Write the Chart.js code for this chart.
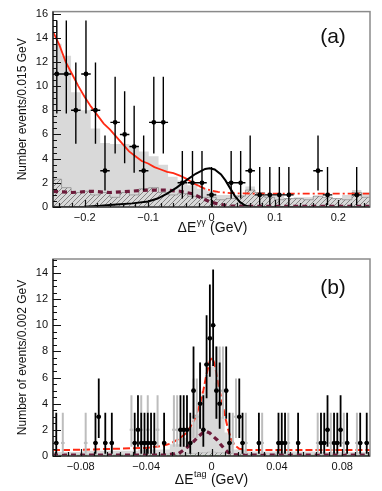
<!DOCTYPE html>
<html><head><meta charset="utf-8">
<script src="https://cdn.jsdelivr.net/npm/chart.js@4.4.1/dist/chart.umd.min.js"></script>
<style>
html,body{margin:0;padding:0;background:#fff;}
#wrap{position:relative;width:382px;height:491px;overflow:hidden;}
.pane{position:absolute;left:0;width:382px;}
#pa{top:0;height:245px;}
#pb{top:245px;height:246px;}
canvas{display:block;}
</style></head><body>
<div id="wrap">
<div class="pane" id="pa"><canvas id="ca" width="382" height="245"></canvas></div>
<div class="pane" id="pb"><canvas id="cb" width="382" height="246"></canvas></div>
</div>
<script>
// ---------- Panel (a): ΔE^γγ ----------
const aBinCenters = [-0.244,-0.229,-0.214,-0.198,-0.183,-0.168,-0.152,-0.137,-0.122,-0.107,-0.091,-0.076,-0.061,-0.046,-0.030,-0.015,0.000,0.015,0.031,0.046,0.061,0.076,0.092,0.107,0.122,0.137,0.153,0.168,0.183,0.198,0.214,0.229,0.244];
const aCounts = [11,11,8,11,8,3,7,6,5,3,7,7,null,2,2,2,1,null,2,2,3,1,1,1,1,null,null,3,1,null,null,1,null];
const aMcTotal = [13.5,12.5,9.5,8.0,6.5,5.3,5.2,5.2,5.0,4.6,4.2,3.5,2.5,2.2,1.8,1.5,1.3,1.0,1.0,1.0,1.7,1.2,0.9,0.9,0.7,0.8,0.8,0.9,0.8,0.7,1.0,1.4,1.2];
const aMcHatched = [2.3,1.6,1.2,1.3,1.0,1.2,0.8,1.2,1.0,1.5,1.6,1.2,1.0,1.1,0.9,0.8,0.8,0.6,0.7,0.9,1.4,1.2,0.8,0.6,0.7,0.7,0.6,0.9,0.8,0.7,0.6,1.2,0.8];
const aFitX = [-0.25,-0.24,-0.23,-0.22,-0.21,-0.2,-0.19,-0.18,-0.17,-0.16,-0.15,-0.14,-0.13,-0.12,-0.11,-0.1,-0.09,-0.08,-0.07,-0.06,-0.05,-0.04,-0.03,-0.02,-0.01,0,0.01,0.02,0.03,0.05,0.1,0.15,0.2,0.25];
const aFitY = [14.5,13.4,12.0,11.0,10.0,9.1,8.3,7.6,6.9,6.4,5.8,5.2,4.6,4.2,3.8,3.6,3.3,3.1,2.9,2.8,2.6,2.35,2.0,1.75,1.5,1.35,1.25,1.2,1.15,1.12,1.1,1.1,1.1,1.1];
const aSigX = [-0.25,-0.2,-0.175,-0.15,-0.125,-0.1,-0.085,-0.07,-0.055,-0.04,-0.025,-0.01,-0.003,0.005,0.015,0.022,0.03,0.037,0.045,0.052,0.06,0.25];
const aSigY = [0,0.03,0.1,0.2,0.3,0.45,0.7,1.1,1.6,2.2,2.75,3.15,3.2,3.1,2.7,2.2,1.5,0.9,0.4,0.15,0.03,0];
const aPeakX = [-0.25,-0.22,-0.19,-0.16,-0.13,-0.1,-0.07,-0.05,-0.03,-0.02,-0.01,0.0,0.01,0.02,0.03,0.05,0.25];
const aPeakY = [1.3,1.2,1.3,1.2,1.3,1.4,1.4,1.3,1.1,0.85,0.6,0.4,0.25,0.15,0.08,0.05,0.05];
const aXTicks = [-0.2,-0.1,0,0.1,0.2];
const aXTickLabels = ['\u22120.2','\u22120.1','0','0.1','0.2'];
const aYTicks = [0,2,4,6,8,10,12,14,16];

// ---------- Panel (b): ΔE^tag ----------
const bBlackX = [-0.095,-0.071,-0.069,-0.065,-0.061,-0.047,-0.045,-0.043,-0.041,-0.039,-0.037,-0.035,-0.029,-0.019,-0.017,-0.015,-0.013,-0.011,-0.007,-0.005,-0.003,-0.001,0.001,0.003,0.005,0.009,0.011,0.017,0.019,0.029,0.041,0.043,0.045,0.053,0.067,0.069,0.071,0.075,0.077,0.079,0.083,0.091,0.095];
const bBlackY = [1,1,3,1,1,1,2,1,1,1,1,1,1,2,2,2,1,5,4,2,7,9,10,5,4,5,1,3,1,1,1,1,1,1,1,1,2,1,1,2,1,1,1];
const bGreyX = [-0.091,-0.077,-0.049,-0.043,-0.039,-0.033,-0.023,-0.021,-0.011,-0.009,-0.007,0.003,0.005,0.007,0.013,0.015,0.021,0.031,0.047,0.065,0.073,0.081,0.089];
const bGreyY = [1,1,2,2,2,2,2,2,3,3,4,5,5,5,1,3,1,1,1,1,1,1,1];
const bMcX = [-0.097,-0.06,-0.03,-0.021,-0.017,-0.013,-0.009,-0.007,-0.005,-0.003,-0.001,0.001,0.003,0.005,0.007,0.009,0.011,0.015,0.03,0.097];
const bMcY = [0.3,0.4,0.5,0.9,1.4,2.2,3.2,4.2,5.0,6.2,6.8,7.0,5.6,4.0,3.0,1.8,1.0,0.5,0.35,0.3];
const bHatchX = [-0.097,-0.06,-0.02,-0.01,-0.005,0.0,0.005,0.01,0.02,0.06,0.097];
const bHatchY = [0.08,0.1,0.15,0.2,0.25,0.3,0.25,0.2,0.15,0.1,0.08];
const bFitX = [-0.097,-0.08,-0.06,-0.04,-0.03,-0.025,-0.02,-0.016,-0.013,-0.01,-0.007,-0.005,-0.003,-0.001,0.0005,0.002,0.004,0.006,0.008,0.010,0.012,0.014,0.017,0.022,0.04,0.097];
const bFitY = [0.45,0.48,0.55,0.62,0.78,0.95,1.3,1.7,2.2,2.9,4.0,5.0,6.3,7.3,7.5,7.0,5.6,4.4,3.2,2.1,1.3,0.85,0.55,0.46,0.45,0.45];
const bPeakX = [-0.097,-0.03,-0.02,-0.017,-0.014,-0.011,-0.008,-0.005,-0.003,-0.001,0.001,0.0035,0.0055,0.0075,0.01,0.013,0.02,0.097];
const bPeakY = [0.06,0.07,0.2,0.46,0.75,1.1,1.5,1.8,1.87,1.75,1.5,1.23,0.9,0.6,0.3,0.1,0.07,0.06];
const bGreenX = [-0.097,0.097];
const bGreenY = [0.04,0.04];
const bXTicks = [-0.08,-0.04,0,0.04,0.08];
const bXTickLabels = ['\u22120.08','\u22120.04','0','0.04','0.08'];
const bYTicks = [0,2,4,6,8,10,12,14];

// Poisson error table (index = count)
const poissonUp = [1.84,2.30,2.64,2.92,3.16,3.38,3.58,3.77,3.95,4.12,4.27,4.42];
const poissonLo = [0.00,0.83,1.29,1.63,1.92,2.16,2.38,2.58,2.77,2.94,3.11,3.27];

const FONT = '"Liberation Sans", Arial, Helvetica, sans-serif';

function pts(xs, ys){ const o=[]; xs.forEach((x,i)=>{ if(ys[i]!==null && ys[i]!==undefined) o.push({x:x,y:ys[i]}); }); return o; }
function histPts(xs, ys, xmin, xmax){ const o=[{x:xmin,y:ys[0]}]; xs.forEach((x,i)=>o.push({x:x,y:ys[i]})); o.push({x:xmax,y:ys[ys.length-1]}); return o; }
function makeHatch(canvas){
  const c=document.createElement('canvas'); c.width=5; c.height=5;
  const g=c.getContext('2d'); g.strokeStyle='#6e6e6e'; g.lineWidth=0.8;
  g.beginPath(); g.moveTo(0,5); g.lineTo(5,0); g.moveTo(-1,1); g.lineTo(1,-1); g.moveTo(4,6); g.lineTo(6,4); g.stroke();
  return canvas.getContext('2d').createPattern(c,'repeat');
}

const rootStyle = {
  id:'rootStyle',
  afterDatasetDraw(chart, args){
    const ds = chart.data.datasets[args.index];
    if(!ds.errBar) return;
    const {ctx, chartArea:ca, scales:{x,y}} = chart;
    ctx.save();
    ctx.beginPath(); ctx.rect(ca.left, ca.top, ca.right-ca.left, ca.bottom-ca.top); ctx.clip();
    ctx.strokeStyle = ds.errBar.color; ctx.lineWidth = ds.errBar.width;
    ctx.beginPath();
    ds.data.forEach(p=>{
      const px=x.getPixelForValue(p.x), py=y.getPixelForValue(p.y);
      ctx.moveTo(px, y.getPixelForValue(p.y+poissonUp[p.y]));
      ctx.lineTo(px, y.getPixelForValue(p.y-poissonLo[p.y]));
      ctx.moveTo(x.getPixelForValue(p.x-ds.errBar.halfWidth), py);
      ctx.lineTo(x.getPixelForValue(p.x+ds.errBar.halfWidth), py);
    });
    ctx.stroke();
    ctx.restore();
  },
  afterDraw(chart, args, o){
    const {ctx, chartArea:ca, scales:{x,y}} = chart;
    ctx.save();
    ctx.strokeStyle='#8a8a8a'; ctx.lineWidth=1.5;
    ctx.strokeRect(ca.left, ca.top, ca.right-ca.left, ca.bottom-ca.top);
    ctx.strokeStyle='#111'; ctx.lineWidth=1.2;
    ctx.beginPath();
    ctx.moveTo(ca.left, ca.top); ctx.lineTo(ca.left, ca.bottom); ctx.lineTo(ca.right, ca.bottom);
    o.yMajor.forEach(v=>{ const py=Math.round(y.getPixelForValue(v))+0.5; ctx.moveTo(ca.left,py); ctx.lineTo(ca.left+8,py); });
    for(let v=y.min; v<=y.max+1e-9; v+=o.yMinor){ const py=Math.round(y.getPixelForValue(v))+0.5; ctx.moveTo(ca.left,py); ctx.lineTo(ca.left+4,py); }
    o.xMajor.forEach(v=>{ const px=Math.round(x.getPixelForValue(v))+0.5; ctx.moveTo(px,ca.bottom); ctx.lineTo(px,ca.bottom-7); });
    const start=Math.ceil(x.min/o.xMinor)*o.xMinor;
    for(let v=start; v<=x.max+1e-9; v+=o.xMinor){ const px=Math.round(x.getPixelForValue(v))+0.5; ctx.moveTo(px,ca.bottom); ctx.lineTo(px,ca.bottom-4); }
    ctx.stroke();
    ctx.fillStyle='#111'; ctx.textAlign='center'; ctx.textBaseline='middle';
    ctx.font='21px '+FONT;
    ctx.fillText(o.label, o.labelX, o.labelY);
    const mainF='14px '+FONT, supF='9px '+FONT;
    ctx.font=mainF; const w1=ctx.measureText(o.xMain).width; const w3=ctx.measureText(o.xTail).width;
    ctx.font=supF; const w2=ctx.measureText(o.xSup).width;
    let sx=o.xTitleX-(w1+w2+w3)/2;
    ctx.textAlign='left';
    ctx.font=mainF; ctx.fillText(o.xMain, sx, o.xTitleY); sx+=w1;
    ctx.font=supF; ctx.fillText(o.xSup, sx+0.5, o.xTitleY-5); sx+=w2+1;
    ctx.font=mainF; ctx.fillText(o.xTail, sx, o.xTitleY);
    ctx.restore();
  }
};

function axisCommon(){ return {grid:{display:false, drawTicks:false}, border:{display:false}}; }

// ---------- Chart (a) ----------
const caEl=document.getElementById('ca');
const hatchA=makeHatch(caEl);
new Chart(caEl, {
  type:'scatter',
  plugins:[rootStyle],
  data:{datasets:[
    {label:'Data', data:pts(aBinCenters,aCounts), pointRadius:2.4, pointBackgroundColor:'#000', pointBorderWidth:0, showLine:false, order:0, errBar:{color:'#000', width:1.4, halfWidth:0.0075}},
    {label:'Signal', data:pts(aSigX,aSigY), showLine:true, pointRadius:0, borderColor:'#000', borderWidth:2, order:1},
    {label:'Fit', data:pts(aFitX,aFitY), showLine:true, pointRadius:0, borderColor:'#ff2a14', borderWidth:1.8, segment:{borderDash:c=>c.p0.parsed.x>-0.03?[7,3,2,3]:[]}, order:2},
    {label:'Peaking background', data:pts(aPeakX,aPeakY), showLine:true, pointRadius:0, borderColor:'#6d1a3a', borderWidth:3.2, borderDash:[5,4], order:3},
    {label:'Non-peaking', data:histPts(aBinCenters,aMcHatched,-0.25,0.25), showLine:true, stepped:'middle', pointRadius:0, borderColor:'#888', borderWidth:0.7, backgroundColor:hatchA, fill:'origin', order:4},
    {label:'MC', data:histPts(aBinCenters,aMcTotal,-0.25,0.25), showLine:true, stepped:'middle', pointRadius:0, borderWidth:0, borderColor:'rgba(0,0,0,0)', backgroundColor:'#d9d9d9', fill:'origin', order:5}
  ]},
  options:{
    responsive:false, animation:false, devicePixelRatio:1,
    layout:{padding:{left:0,right:12,top:10,bottom:0}},
    plugins:{legend:{display:false}, tooltip:{enabled:false},
      rootStyle:{yMajor:aYTicks, yMinor:0.5, xMajor:aXTicks, xMinor:0.02, label:'(a)', labelX:333, labelY:37, xMain:'\u0394E', xSup:'\u03b3\u03b3', xTail:' (GeV)', xTitleX:212, xTitleY:228}},
    scales:{
      x:Object.assign(axisCommon(),{type:'linear', min:-0.25, max:0.25,
        afterBuildTicks:s=>{s.ticks=aXTicks.map(v=>({value:v}));},
        afterFit:s=>{s.height=38;},
        ticks:{padding:4, color:'#111', autoSkip:false, maxRotation:0, font:{family:FONT,size:11}, callback:(v,i)=>aXTickLabels[i]}}),
      y:Object.assign(axisCommon(),{type:'linear', min:0, max:16.16,
        afterBuildTicks:s=>{s.ticks=aYTicks.map(v=>({value:v}));},
        afterFit:s=>{s.width=53;},
        title:{display:true, text:'Number events/0.015 GeV', color:'#111', font:{family:FONT,size:12}, padding:{top:15,bottom:0}},
        ticks:{padding:5, color:'#111', font:{family:FONT,size:11}}})
    }
  }
});

// ---------- Chart (b) ----------
const cbEl=document.getElementById('cb');
const hatchB=makeHatch(cbEl);
new Chart(cbEl, {
  type:'scatter',
  plugins:[rootStyle],
  data:{datasets:[
    {label:'Data', data:pts(bBlackX,bBlackY), pointRadius:2.3, pointBackgroundColor:'#000', pointBorderWidth:0, showLine:false, order:0, errBar:{color:'#000', width:1.8, halfWidth:0.0013}},
    {label:'Data (grey)', data:pts(bGreyX,bGreyY), pointRadius:1.4, pointBackgroundColor:'#a8a8a8', pointBorderWidth:0, showLine:false, order:1, errBar:{color:'#bdbdbd', width:2, halfWidth:0.0011}},
    {label:'Fit', data:pts(bFitX,bFitY), showLine:true, pointRadius:0, borderColor:'#ff2a14', borderWidth:2, borderDash:[7,3], order:2},
    {label:'Peaking background', data:pts(bPeakX,bPeakY), showLine:true, pointRadius:0, borderColor:'#6d1a3a', borderWidth:3.2, borderDash:[5,4], order:3},
    {label:'Other', data:pts(bGreenX,bGreenY), showLine:true, pointRadius:0, borderColor:'#3a9a3a', borderWidth:1, borderDash:[4,2], order:4},
    {label:'Non-peaking', data:pts(bHatchX,bHatchY), showLine:true, stepped:'middle', pointRadius:0, borderColor:'#aaa', borderWidth:0.5, backgroundColor:hatchB, fill:'origin', order:5},
    {label:'MC', data:pts(bMcX,bMcY), showLine:true, stepped:'middle', pointRadius:0, borderWidth:0, borderColor:'rgba(0,0,0,0)', backgroundColor:'#d9d9d9', fill:'origin', order:6}
  ]},
  options:{
    responsive:false, animation:false, devicePixelRatio:1,
    layout:{padding:{left:0,right:12,top:14,bottom:0}},
    plugins:{legend:{display:false}, tooltip:{enabled:false},
      rootStyle:{yMajor:bYTicks, yMinor:0.5, xMajor:bXTicks, xMinor:0.008, label:'(b)', labelX:333, labelY:43, xMain:'\u0394E', xSup:'tag', xTail:' (GeV)', xTitleX:211, xTitleY:235}},
    scales:{
      x:Object.assign(axisCommon(),{type:'linear', min:-0.097, max:0.097,
        afterBuildTicks:s=>{s.ticks=bXTicks.map(v=>({value:v}));},
        afterFit:s=>{s.height=35;},
        ticks:{padding:4, color:'#111', autoSkip:false, maxRotation:0, font:{family:FONT,size:11}, callback:(v,i)=>bXTickLabels[i]}}),
      y:Object.assign(axisCommon(),{type:'linear', min:0, max:15.07,
        afterBuildTicks:s=>{s.ticks=bYTicks.map(v=>({value:v}));},
        afterFit:s=>{s.width=53;},
        title:{display:true, text:'Number of events/0.002 GeV', color:'#111', font:{family:FONT,size:12}, padding:{top:15,bottom:0}},
        ticks:{padding:5, color:'#111', font:{family:FONT,size:11}}})
    }
  }
});
</script>
</body></html>
